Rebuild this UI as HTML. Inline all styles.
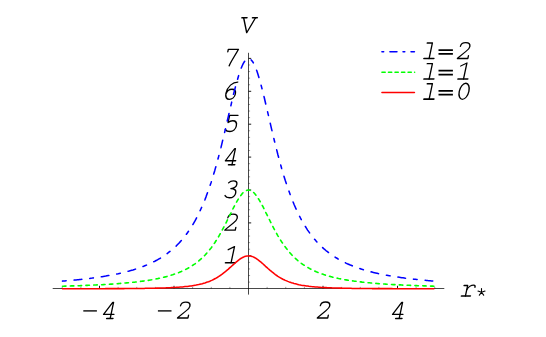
<!DOCTYPE html>
<html><head><meta charset="utf-8">
<title>V(r*)</title>
<style>
html,body{margin:0;padding:0;background:#fff;}
body{width:546px;height:337px;overflow:hidden;font-family:"Liberation Mono",monospace;}
svg{display:block;}
</style></head><body>
<svg width="546" height="337" viewBox="0 0 546 337">
<rect width="546" height="337" fill="#fff"/>
<g stroke="#000" fill="none">
<path d="M52.7,288.5 H444.3 M248.5,52.8 V294.6" stroke-width="0.72"/>
<path d="M99.50,288.50 v-2.70 M174.00,288.50 v-2.70 M323.00,288.50 v-2.70 M397.50,288.50 v-2.70 M248.50,255.80 h2.70 M248.50,222.90 h2.70 M248.50,190.00 h2.70 M248.50,157.10 h2.70 M248.50,124.20 h2.70 M248.50,91.30 h2.70 M248.50,58.40 h2.70" stroke-width="0.9"/>
<path d="M62.25,288.50 v-1.60 M80.88,288.50 v-1.60 M118.12,288.50 v-1.60 M136.75,288.50 v-1.60 M155.38,288.50 v-1.60 M192.62,288.50 v-1.60 M211.25,288.50 v-1.60 M229.88,288.50 v-1.60 M267.12,288.50 v-1.60 M285.75,288.50 v-1.60 M304.38,288.50 v-1.60 M341.62,288.50 v-1.60 M360.25,288.50 v-1.60 M378.88,288.50 v-1.60 M416.12,288.50 v-1.60 M434.75,288.50 v-1.60 M248.50,282.12 h1.60 M248.50,275.54 h1.60 M248.50,268.96 h1.60 M248.50,262.38 h1.60 M248.50,249.22 h1.60 M248.50,242.64 h1.60 M248.50,236.06 h1.60 M248.50,229.48 h1.60 M248.50,216.32 h1.60 M248.50,209.74 h1.60 M248.50,203.16 h1.60 M248.50,196.58 h1.60 M248.50,183.42 h1.60 M248.50,176.84 h1.60 M248.50,170.26 h1.60 M248.50,163.68 h1.60 M248.50,150.52 h1.60 M248.50,143.94 h1.60 M248.50,137.36 h1.60 M248.50,130.78 h1.60 M248.50,117.62 h1.60 M248.50,111.04 h1.60 M248.50,104.46 h1.60 M248.50,97.88 h1.60 M248.50,84.72 h1.60 M248.50,78.14 h1.60 M248.50,71.56 h1.60 M248.50,64.98 h1.60" stroke-width="0.4"/>
</g>
<g stroke="#000" fill="none" stroke-linecap="round" stroke-linejoin="round">
<g transform="translate(224.05,65.95) skewX(-12) scale(0.945)" stroke-width="1.43"><path d="M0.8,-15.0 L0.8,-17.6 L11.5,-17.6 C9.6,-11.5 6.6,-5.5 5.4,-0.2"/></g>
<g transform="translate(224.45,98.65) skewX(-12) scale(0.945)" stroke-width="1.43"><path d="M10.4,-17.5 C5.0,-17.5 0.4,-13 0.4,-5.6 C0.4,-1.7 2.4,0.7 5.4,0.7 C8.4,0.7 10.5,-1.6 10.5,-4.8 C10.5,-7.9 8.5,-10.0 5.8,-10.0 C3.2,-10.0 0.9,-8.0 0.5,-4.8"/></g>
<g transform="translate(224.85,131.55) skewX(-12) scale(0.945)" stroke-width="1.43"><path d="M10.2,-17.1 L1.4,-17.1 L1.4,-9.6 C2.6,-10.8 4.2,-11.4 5.8,-11.4 C8.8,-11.4 10.9,-9.2 10.9,-5.8 C10.9,-2.3 8.6,0 5.4,0 C3.2,0 1.2,-0.8 0,-2.2"/></g>
<g transform="translate(224.55,164.65) skewX(-12) scale(0.945)" stroke-width="1.43"><path d="M7.9,0.2 L7.9,-16.8 L7.0,-16.8 L0,-4.1 L10.9,-4.1"/><path d="M4.2,0.2 L10.8,0.2" stroke-width="1.6"/></g>
<g transform="translate(224.65,197.35) skewX(-12) scale(0.945)" stroke-width="1.43"><path d="M0.9,-15.4 C1.8,-16.7 3.5,-17.5 5.4,-17.5 C8.2,-17.5 10.0,-15.9 10.0,-13.5 C10.0,-11.1 8.3,-9.5 4.6,-9.3 C8.6,-9.3 10.7,-7.6 10.7,-4.7 C10.7,-1.6 8.5,0.4 5.2,0.4 C3.0,0.4 1.0,-0.5 0,-1.9"/></g>
<g transform="translate(224.65,230.15) skewX(-12) scale(0.945)" stroke-width="1.43"><path d="M0.6,-13.0 C0.6,-15.4 2.6,-16.9 5.3,-16.9 C8.4,-16.9 10.6,-15.2 10.6,-12.6 C10.6,-10.6 9.4,-9.3 7.6,-7.6 L0.2,-0.3 L0.2,0 L11.2,0 L11.2,-3"/></g>
<g transform="translate(225.30,262.75) skewX(-12) scale(0.945)" stroke-width="1.43"><path d="M0.2,-13.8 L6.1,-17.0 L6.1,0"/><path d="M0.2,0 L10.6,0" stroke-width="1.7"/></g>
<path d="M83.3,310.9 h13.6" stroke-width="1.35" stroke-linecap="butt"/>
<g transform="translate(102.75,318.25) skewX(-12) scale(0.945)" stroke-width="1.43"><path d="M7.9,0.2 L7.9,-16.8 L7.0,-16.8 L0,-4.1 L10.9,-4.1"/><path d="M4.2,0.2 L10.8,0.2" stroke-width="1.6"/></g>
<path d="M157.9,310.9 h13.6" stroke-width="1.35" stroke-linecap="butt"/>
<g transform="translate(177.35,318.05) skewX(-12) scale(0.945)" stroke-width="1.43"><path d="M0.6,-13.0 C0.6,-15.4 2.6,-16.9 5.3,-16.9 C8.4,-16.9 10.6,-15.2 10.6,-12.6 C10.6,-10.6 9.4,-9.3 7.6,-7.6 L0.2,-0.3 L0.2,0 L11.2,0 L11.2,-3"/></g>
<g transform="translate(317.15,317.95) skewX(-12) scale(0.945)" stroke-width="1.43"><path d="M0.6,-13.0 C0.6,-15.4 2.6,-16.9 5.3,-16.9 C8.4,-16.9 10.6,-15.2 10.6,-12.6 C10.6,-10.6 9.4,-9.3 7.6,-7.6 L0.2,-0.3 L0.2,0 L11.2,0 L11.2,-3"/></g>
<g transform="translate(391.75,318.25) skewX(-12) scale(0.945)" stroke-width="1.43"><path d="M7.9,0.2 L7.9,-16.8 L7.0,-16.8 L0,-4.1 L10.9,-4.1"/><path d="M4.2,0.2 L10.8,0.2" stroke-width="1.6"/></g>
<g transform="translate(238.30,32.65) skewX(-12) scale(0.945)" stroke-width="1.43"><path d="M2.3,-15.8 L8.9,0 L14.9,-15.8"/><path d="M0.4,-15.8 L5.9,-15.8 M11.6,-15.8 L16.8,-15.8" stroke-width="1.5"/></g>
<g transform="translate(459.75,295.95) skewX(-12) scale(0.945)" stroke-width="1.43"><path d="M2.2,-11.1 L6.0,-11.1 L6.0,0"/><path d="M6.0,-6.6 C7.2,-9.4 9.8,-11.4 12.2,-11.4 C13.6,-11.4 14.2,-10.6 14.2,-9.2"/><path d="M1.8,0 L11.2,0" stroke-width="1.7"/></g>
<path d="M481.50,292.20 L481.50,288.50 M481.50,292.20 L485.02,291.06 M481.50,292.20 L483.67,295.19 M481.50,292.20 L479.33,295.19 M481.50,292.20 L477.98,291.06 " stroke-width="1.1"/>
<g transform="translate(423.45,58.45) skewX(-12) scale(0.945)" stroke-width="1.43"><path d="M0.5,-16.3 L6,-16.3 L6,0"/><path d="M0.5,0 L11.0,0" stroke-width="1.7"/></g>
<path d="M438.5,50.1 h14.4 M438.5,53.900000000000006 h14.4" stroke-width="1.75" stroke-linecap="butt"/>
<g transform="translate(423.45,79.05) skewX(-12) scale(0.945)" stroke-width="1.43"><path d="M0.5,-16.3 L6,-16.3 L6,0"/><path d="M0.5,0 L11.0,0" stroke-width="1.7"/></g>
<path d="M438.5,70.7 h14.4 M438.5,74.5 h14.4" stroke-width="1.75" stroke-linecap="butt"/>
<g transform="translate(423.45,99.15) skewX(-12) scale(0.945)" stroke-width="1.43"><path d="M0.5,-16.3 L6,-16.3 L6,0"/><path d="M0.5,0 L11.0,0" stroke-width="1.7"/></g>
<path d="M438.5,90.80000000000001 h14.4 M438.5,94.60000000000001 h14.4" stroke-width="1.75" stroke-linecap="butt"/>
<g transform="translate(457.25,58.55) skewX(-12) scale(0.945)" stroke-width="1.43"><path d="M0.6,-13.0 C0.6,-15.4 2.6,-16.9 5.3,-16.9 C8.4,-16.9 10.6,-15.2 10.6,-12.6 C10.6,-10.6 9.4,-9.3 7.6,-7.6 L0.2,-0.3 L0.2,0 L11.2,0 L11.2,-3"/></g>
<g transform="translate(457.75,79.05) skewX(-12) scale(0.945)" stroke-width="1.43"><path d="M0.2,-13.8 L6.1,-17.0 L6.1,0"/><path d="M0.2,0 L10.6,0" stroke-width="1.7"/></g>
<g transform="translate(457.05,99.15) skewX(-12) scale(0.945)" stroke-width="1.43"><ellipse cx="5.7" cy="-8.3" rx="5.1" ry="8.5"/></g>
</g>
<g fill="none" stroke-linecap="round" stroke-linejoin="round">
<path d="M62.5 281.1L63.7 281.0L64.9 280.9L66.2 280.8L67.4 280.7L68.6 280.6L69.9 280.5L71.1 280.4L72.4 280.3L73.6 280.2L74.8 280.0L76.1 279.9L77.3 279.8L78.5 279.7L79.8 279.5L81.0 279.4L82.3 279.3L83.5 279.1L84.7 279.0L86.0 278.8L87.2 278.7L88.5 278.5L89.7 278.4L90.9 278.2L92.2 278.1L93.4 277.9L94.6 277.7L95.9 277.6L97.1 277.4L98.4 277.2L99.6 277.0L100.8 276.9L102.1 276.7L103.3 276.5L104.6 276.3L105.8 276.1L107.0 275.8L108.3 275.6L109.5 275.4L110.7 275.2L112.0 274.9L113.2 274.7L114.5 274.5L115.7 274.2L116.9 273.9L118.2 273.7L119.4 273.4L120.7 273.1L121.9 272.8L123.1 272.6L124.4 272.2L125.6 271.9L126.8 271.6L128.1 271.3L129.3 271.0L130.6 270.6L131.8 270.2L133.0 269.9L134.3 269.5L135.5 269.1L136.8 268.7L138.0 268.3L139.2 267.9L140.5 267.4L141.7 267.0L142.9 266.5L144.2 266.0L145.4 265.5L146.7 265.0L147.9 264.5L149.1 264.0L150.4 263.4L151.6 262.8L152.8 262.2L154.1 261.6L155.3 261.0L156.6 260.3L157.8 259.6L159.0 258.9L160.3 258.2L161.5 257.4L162.8 256.6L164.0 255.8L165.2 254.9L166.5 254.1L167.7 253.2L168.9 252.2L170.2 251.2L171.4 250.2L172.7 249.2L173.9 248.1L175.1 246.9L176.4 245.8L177.6 244.5L178.9 243.2L180.1 241.9L181.3 240.5L182.6 239.1L183.8 237.6L185.0 236.0L186.3 234.4L187.5 232.7L188.8 230.9L190.0 229.1L191.2 227.2L192.5 225.2L193.7 223.1L195.0 220.9L196.2 218.6L197.4 216.3L198.7 213.8L199.9 211.2L201.1 208.5L202.4 205.7L203.6 202.8L204.9 199.7L206.1 196.6L207.3 193.2L208.6 189.8L209.8 186.2L211.1 182.5L212.3 178.6L213.5 174.6L214.8 170.4L216.0 166.1L217.2 161.6L218.5 157.0L219.7 152.3L221.0 147.4L222.2 142.4L223.4 137.3L224.7 132.1L225.9 126.9L227.1 121.6L228.4 116.2L229.6 110.9L230.9 105.6L232.1 100.3L233.3 95.2L234.6 90.2L235.8 85.5L237.1 80.9L238.3 76.7L239.5 72.8L240.8 69.3L242.0 66.2L243.2 63.6L244.5 61.5L245.7 59.9L247.0 58.9L248.2 58.5L249.4 58.6L250.7 59.4L251.9 60.7L253.2 62.5L254.4 64.9L255.6 67.7L256.9 71.0L258.1 74.8L259.3 78.8L260.6 83.2L261.8 87.9L263.1 92.8L264.3 97.8L265.5 103.0L266.8 108.3L268.0 113.6L269.3 119.0L270.5 124.3L271.7 129.6L273.0 134.8L274.2 140.0L275.4 145.0L276.7 149.9L277.9 154.7L279.2 159.4L280.4 163.9L281.6 168.3L282.9 172.6L284.1 176.7L285.3 180.6L286.6 184.4L287.8 188.1L289.1 191.6L290.3 195.0L291.5 198.2L292.8 201.3L294.0 204.3L295.3 207.2L296.5 209.9L297.7 212.6L299.0 215.1L300.2 217.5L301.4 219.8L302.7 222.0L303.9 224.2L305.2 226.2L306.4 228.2L307.6 230.1L308.9 231.9L310.1 233.6L311.4 235.2L312.6 236.8L313.8 238.4L315.1 239.8L316.3 241.3L317.5 242.6L318.8 243.9L320.0 245.2L321.3 246.4L322.5 247.5L323.7 248.6L325.0 249.7L326.2 250.8L327.5 251.7L328.7 252.7L329.9 253.6L331.2 254.5L332.4 255.4L333.6 256.2L334.9 257.0L336.1 257.8L337.4 258.5L338.6 259.3L339.8 260.0L341.1 260.6L342.3 261.3L343.6 261.9L344.8 262.5L346.0 263.1L347.3 263.7L348.5 264.2L349.7 264.8L351.0 265.3L352.2 265.8L353.5 266.3L354.7 266.8L355.9 267.2L357.2 267.7L358.4 268.1L359.6 268.5L360.9 268.9L362.1 269.3L363.4 269.7L364.6 270.1L365.8 270.4L367.1 270.8L368.3 271.1L369.6 271.5L370.8 271.8L372.0 272.1L373.3 272.4L374.5 272.7L375.7 273.0L377.0 273.3L378.2 273.6L379.5 273.8L380.7 274.1L381.9 274.3L383.2 274.6L384.4 274.8L385.7 275.1L386.9 275.3L388.1 275.5L389.4 275.7L390.6 276.0L391.8 276.2L393.1 276.4L394.3 276.6L395.6 276.8L396.8 276.9L398.0 277.1L399.3 277.3L400.5 277.5L401.8 277.7L403.0 277.8L404.2 278.0L405.5 278.2L406.7 278.3L407.9 278.5L409.2 278.6L410.4 278.8L411.7 278.9L412.9 279.1L414.1 279.2L415.4 279.3L416.6 279.5L417.9 279.6L419.1 279.7L420.3 279.9L421.6 280.0L422.8 280.1L424.0 280.2L425.3 280.3L426.5 280.4L427.8 280.6L429.0 280.7L430.2 280.8L431.5 280.9L432.7 281.0L433.9 281.1" stroke="#0000ff" stroke-width="1.55" stroke-dasharray="3.65 8.05 7.65 8.04"/>
<path d="M62.5 286.2L63.7 286.2L64.9 286.1L66.2 286.1L67.4 286.1L68.6 286.0L69.9 286.0L71.1 285.9L72.4 285.9L73.6 285.9L74.8 285.8L76.1 285.8L77.3 285.7L78.5 285.7L79.8 285.7L81.0 285.6L82.3 285.6L83.5 285.5L84.7 285.5L86.0 285.4L87.2 285.4L88.5 285.3L89.7 285.3L90.9 285.2L92.2 285.1L93.4 285.1L94.6 285.0L95.9 285.0L97.1 284.9L98.4 284.9L99.6 284.8L100.8 284.7L102.1 284.7L103.3 284.6L104.6 284.5L105.8 284.4L107.0 284.4L108.3 284.3L109.5 284.2L110.7 284.1L112.0 284.1L113.2 284.0L114.5 283.9L115.7 283.8L116.9 283.7L118.2 283.6L119.4 283.5L120.7 283.4L121.9 283.3L123.1 283.2L124.4 283.1L125.6 283.0L126.8 282.9L128.1 282.8L129.3 282.7L130.6 282.5L131.8 282.4L133.0 282.3L134.3 282.2L135.5 282.0L136.8 281.9L138.0 281.7L139.2 281.6L140.5 281.4L141.7 281.3L142.9 281.1L144.2 280.9L145.4 280.7L146.7 280.6L147.9 280.4L149.1 280.2L150.4 280.0L151.6 279.8L152.8 279.5L154.1 279.3L155.3 279.1L156.6 278.8L157.8 278.6L159.0 278.3L160.3 278.1L161.5 277.8L162.8 277.5L164.0 277.2L165.2 276.9L166.5 276.6L167.7 276.2L168.9 275.9L170.2 275.5L171.4 275.1L172.7 274.7L173.9 274.3L175.1 273.9L176.4 273.5L177.6 273.0L178.9 272.5L180.1 272.0L181.3 271.5L182.6 270.9L183.8 270.4L185.0 269.8L186.3 269.1L187.5 268.5L188.8 267.8L190.0 267.1L191.2 266.3L192.5 265.5L193.7 264.7L195.0 263.8L196.2 262.9L197.4 262.0L198.7 261.0L199.9 259.9L201.1 258.8L202.4 257.7L203.6 256.5L204.9 255.2L206.1 253.9L207.3 252.5L208.6 251.0L209.8 249.5L211.1 247.9L212.3 246.3L213.5 244.5L214.8 242.7L216.0 240.8L217.2 238.8L218.5 236.8L219.7 234.7L221.0 232.5L222.2 230.2L223.4 227.9L224.7 225.5L225.9 223.1L227.1 220.6L228.4 218.1L229.6 215.6L230.9 213.1L232.1 210.6L233.3 208.1L234.6 205.7L235.8 203.4L237.1 201.2L238.3 199.1L239.5 197.2L240.8 195.5L242.0 193.9L243.2 192.6L244.5 191.6L245.7 190.8L247.0 190.3L248.2 190.1L249.4 190.2L250.7 190.5L251.9 191.2L253.2 192.1L254.4 193.3L255.6 194.7L256.9 196.3L258.1 198.2L259.3 200.2L260.6 202.3L261.8 204.6L263.1 206.9L264.3 209.4L265.5 211.9L266.8 214.4L268.0 216.9L269.3 219.4L270.5 221.9L271.7 224.3L273.0 226.8L274.2 229.1L275.4 231.4L276.7 233.6L277.9 235.8L279.2 237.9L280.4 239.9L281.6 241.8L282.9 243.6L284.1 245.4L285.3 247.1L286.6 248.7L287.8 250.3L289.1 251.8L290.3 253.2L291.5 254.6L292.8 255.9L294.0 257.1L295.3 258.3L296.5 259.4L297.7 260.5L299.0 261.5L300.2 262.5L301.4 263.4L302.7 264.3L303.9 265.1L305.2 265.9L306.4 266.7L307.6 267.4L308.9 268.1L310.1 268.8L311.4 269.5L312.6 270.1L313.8 270.7L315.1 271.2L316.3 271.8L317.5 272.3L318.8 272.8L320.0 273.2L321.3 273.7L322.5 274.1L323.7 274.6L325.0 275.0L326.2 275.3L327.5 275.7L328.7 276.1L329.9 276.4L331.2 276.7L332.4 277.1L333.6 277.4L334.9 277.7L336.1 277.9L337.4 278.2L338.6 278.5L339.8 278.7L341.1 279.0L342.3 279.2L343.6 279.4L344.8 279.7L346.0 279.9L347.3 280.1L348.5 280.3L349.7 280.5L351.0 280.7L352.2 280.8L353.5 281.0L354.7 281.2L355.9 281.3L357.2 281.5L358.4 281.7L359.6 281.8L360.9 281.9L362.1 282.1L363.4 282.2L364.6 282.4L365.8 282.5L367.1 282.6L368.3 282.7L369.6 282.8L370.8 283.0L372.0 283.1L373.3 283.2L374.5 283.3L375.7 283.4L377.0 283.5L378.2 283.6L379.5 283.7L380.7 283.8L381.9 283.9L383.2 283.9L384.4 284.0L385.7 284.1L386.9 284.2L388.1 284.3L389.4 284.3L390.6 284.4L391.8 284.5L393.1 284.6L394.3 284.6L395.6 284.7L396.8 284.8L398.0 284.8L399.3 284.9L400.5 284.9L401.8 285.0L403.0 285.1L404.2 285.1L405.5 285.2L406.7 285.2L407.9 285.3L409.2 285.3L410.4 285.4L411.7 285.4L412.9 285.5L414.1 285.5L415.4 285.6L416.6 285.6L417.9 285.7L419.1 285.7L420.3 285.8L421.6 285.8L422.8 285.8L424.0 285.9L425.3 285.9L426.5 286.0L427.8 286.0L429.0 286.0L430.2 286.1L431.5 286.1L432.7 286.1L433.9 286.2" stroke="#00ff00" stroke-width="1.6" stroke-dasharray="3.50 4.326"/>
<path d="M62.5 288.7L63.7 288.7L64.9 288.7L66.2 288.7L67.4 288.7L68.6 288.7L69.9 288.7L71.1 288.7L72.4 288.7L73.6 288.7L74.8 288.7L76.1 288.7L77.3 288.7L78.5 288.7L79.8 288.7L81.0 288.7L82.3 288.7L83.5 288.7L84.7 288.7L86.0 288.7L87.2 288.7L88.5 288.7L89.7 288.7L90.9 288.7L92.2 288.7L93.4 288.7L94.6 288.7L95.9 288.7L97.1 288.7L98.4 288.7L99.6 288.7L100.8 288.7L102.1 288.7L103.3 288.7L104.6 288.7L105.8 288.6L107.0 288.6L108.3 288.6L109.5 288.6L110.7 288.6L112.0 288.6L113.2 288.6L114.5 288.6L115.7 288.6L116.9 288.6L118.2 288.6L119.4 288.6L120.7 288.6L121.9 288.6L123.1 288.6L124.4 288.6L125.6 288.5L126.8 288.5L128.1 288.5L129.3 288.5L130.6 288.5L131.8 288.5L133.0 288.5L134.3 288.5L135.5 288.5L136.8 288.5L138.0 288.4L139.2 288.4L140.5 288.4L141.7 288.4L142.9 288.4L144.2 288.4L145.4 288.3L146.7 288.3L147.9 288.3L149.1 288.3L150.4 288.3L151.6 288.2L152.8 288.2L154.1 288.2L155.3 288.2L156.6 288.1L157.8 288.1L159.0 288.1L160.3 288.0L161.5 288.0L162.8 288.0L164.0 287.9L165.2 287.9L166.5 287.8L167.7 287.8L168.9 287.7L170.2 287.7L171.4 287.6L172.7 287.5L173.9 287.5L175.1 287.4L176.4 287.3L177.6 287.2L178.9 287.2L180.1 287.1L181.3 287.0L182.6 286.9L183.8 286.7L185.0 286.6L186.3 286.5L187.5 286.4L188.8 286.2L190.0 286.0L191.2 285.9L192.5 285.7L193.7 285.5L195.0 285.3L196.2 285.1L197.4 284.8L198.7 284.6L199.9 284.3L201.1 284.0L202.4 283.7L203.6 283.3L204.9 282.9L206.1 282.5L207.3 282.1L208.6 281.7L209.8 281.2L211.1 280.6L212.3 280.1L213.5 279.5L214.8 278.8L216.0 278.2L217.2 277.5L218.5 276.7L219.7 275.9L221.0 275.0L222.2 274.1L223.4 273.2L224.7 272.2L225.9 271.2L227.1 270.1L228.4 269.1L229.6 267.9L230.9 266.8L232.1 265.7L233.3 264.6L234.6 263.5L235.8 262.4L237.1 261.3L238.3 260.3L239.5 259.4L240.8 258.5L242.0 257.8L243.2 257.2L244.5 256.6L245.7 256.2L247.0 256.0L248.2 255.9L249.4 255.9L250.7 256.1L251.9 256.4L253.2 256.9L254.4 257.5L255.6 258.2L256.9 259.0L258.1 259.9L259.3 260.8L260.6 261.8L261.8 262.9L263.1 264.0L264.3 265.1L265.5 266.3L266.8 267.4L268.0 268.5L269.3 269.6L270.5 270.7L271.7 271.7L273.0 272.7L274.2 273.7L275.4 274.6L276.7 275.5L277.9 276.3L279.2 277.1L280.4 277.8L281.6 278.5L282.9 279.2L284.1 279.8L285.3 280.4L286.6 280.9L287.8 281.4L289.1 281.9L290.3 282.3L291.5 282.7L292.8 283.1L294.0 283.5L295.3 283.8L296.5 284.1L297.7 284.4L299.0 284.7L300.2 284.9L301.4 285.2L302.7 285.4L303.9 285.6L305.2 285.8L306.4 286.0L307.6 286.1L308.9 286.3L310.1 286.4L311.4 286.6L312.6 286.7L313.8 286.8L315.1 286.9L316.3 287.0L317.5 287.1L318.8 287.2L320.0 287.3L321.3 287.4L322.5 287.4L323.7 287.5L325.0 287.6L326.2 287.6L327.5 287.7L328.7 287.7L329.9 287.8L331.2 287.8L332.4 287.9L333.6 287.9L334.9 288.0L336.1 288.0L337.4 288.0L338.6 288.1L339.8 288.1L341.1 288.1L342.3 288.2L343.6 288.2L344.8 288.2L346.0 288.2L347.3 288.3L348.5 288.3L349.7 288.3L351.0 288.3L352.2 288.4L353.5 288.4L354.7 288.4L355.9 288.4L357.2 288.4L358.4 288.4L359.6 288.4L360.9 288.5L362.1 288.5L363.4 288.5L364.6 288.5L365.8 288.5L367.1 288.5L368.3 288.5L369.6 288.5L370.8 288.5L372.0 288.6L373.3 288.6L374.5 288.6L375.7 288.6L377.0 288.6L378.2 288.6L379.5 288.6L380.7 288.6L381.9 288.6L383.2 288.6L384.4 288.6L385.7 288.6L386.9 288.6L388.1 288.6L389.4 288.6L390.6 288.6L391.8 288.6L393.1 288.7L394.3 288.7L395.6 288.7L396.8 288.7L398.0 288.7L399.3 288.7L400.5 288.7L401.8 288.7L403.0 288.7L404.2 288.7L405.5 288.7L406.7 288.7L407.9 288.7L409.2 288.7L410.4 288.7L411.7 288.7L412.9 288.7L414.1 288.7L415.4 288.7L416.6 288.7L417.9 288.7L419.1 288.7L420.3 288.7L421.6 288.7L422.8 288.7L424.0 288.7L425.3 288.7L426.5 288.7L427.8 288.7L429.0 288.7L430.2 288.7L431.5 288.7L432.7 288.7L433.9 288.7" stroke="#ff0000" stroke-width="1.55"/>
</g>
<g fill="none" stroke-linecap="round">
<path d="M381.95,51.7 H414.4" stroke="#0000ff" stroke-width="1.6" stroke-dasharray="1.7 6.3 7.0 6.1"/>
<path d="M381.95,72.3 H414.62" stroke="#00ff00" stroke-width="1.55" stroke-dasharray="3.25 3.28"/>
<path d="M381.95,92.45 H414.4" stroke="#ff0000" stroke-width="1.55"/>
</g>
</svg>
</body></html>
